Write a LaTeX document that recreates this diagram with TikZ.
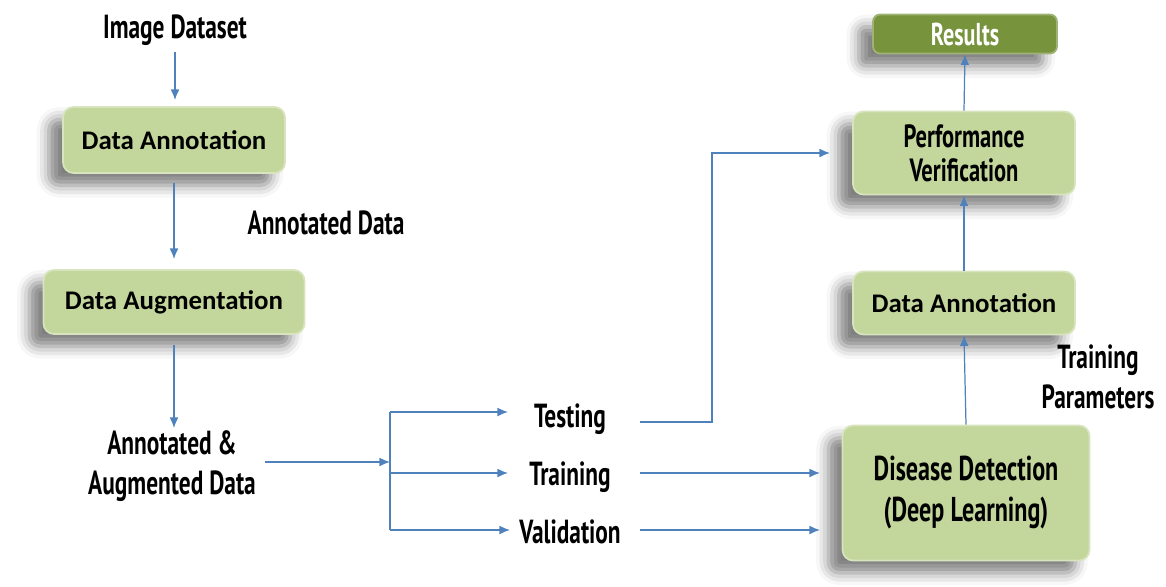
\documentclass[tikz,border=0pt]{standalone}
\usepackage{fontspec}
\usetikzlibrary{arrows.meta,shadows.blur}
\newfontfamily\agency[FakeStretch=0.7]{PT Sans}
\newfontfamily\calibri{Carlito}
\definecolor{boxgreen}{HTML}{C3D69B}
\definecolor{boxedge}{HTML}{D7E4BD}
\definecolor{darkgreen}{HTML}{77933C}
\definecolor{arrowblue}{HTML}{4F81BD}
\tikzset{
  gbox/.style={rectangle, rounded corners=6pt, fill=boxgreen, draw=boxedge, line width=1pt,
    align=center, text=black, inner sep=2pt,
    blur shadow={shadow xshift=-8pt, shadow yshift=-7pt, shadow blur radius=7pt, shadow opacity=50}},
  rbox/.style={gbox, fill=darkgreen, draw=darkgreen!70!white, text=white},
  lbl/.style={align=center, font=\agency\bfseries\fontsize{19}{22.5}\selectfont, inner sep=1pt},
  cbl/.style={font=\calibri\bfseries\fontsize{15.3}{18}\selectfont},
  arr/.style={draw=arrowblue, line width=0.7pt, -{Latex[length=6pt,width=5pt]}},
  ln/.style={draw=arrowblue, line width=0.7pt},
}
\begin{document}
\begin{tikzpicture}[x=0.02cm,y=-0.02cm]
\useasboundingbox (0,0) rectangle (1166,586);
% left column
\node[lbl] (img) at (175,30) {Image Dataset};
\node[gbox, cbl, minimum width=4.44cm, minimum height=1.32cm] (ann1) at (174,140) {Data Annotation};
\node[lbl] (annd) at (326,223) {Annotated Data};
\node[gbox, cbl, minimum width=5.22cm, minimum height=1.28cm] (aug) at (174,302) {Data Augmentation};
\node[lbl] (aad) at (172,466) {Annotated \&\\Augmented Data};
% split
\coordinate (sp) at (390,462);
\coordinate (spt) at (390,412);
\coordinate (spb) at (390,530);
\coordinate (spm) at (390,473);
\node[lbl] (test) at (570,419) {Testing};
\node[lbl] (train) at (570,477) {Training};
\node[lbl] (val) at (570,532) {Validation};
% right column
\node[gbox, font=\agency\bfseries\fontsize{19.6}{23}\selectfont, minimum width=4.94cm, minimum height=2.7cm] (dd) at (966,493) {\raisebox{-0.1cm}{\begin{tabular}{@{}c@{}}Disease Detection\\(Deep Learning)\end{tabular}}};
\node[gbox, cbl, minimum width=4.44cm, minimum height=1.26cm] (ann2) at (964,303) {Data Annotation};
\node[lbl] (tp) at (1098,377) {Training\\Parameters};
\node[gbox, font=\agency\bfseries\fontsize{18.3}{19.5}\selectfont, minimum width=4.44cm, minimum height=1.66cm] (pv) at (964,153) {Performance\\Verification};
\node[rbox, font=\agency\bfseries\fontsize{18}{20}\selectfont, minimum width=3.68cm, minimum height=0.78cm, rounded corners=4pt] (res) at (965,34) {Results};
% connectors
\coordinate (imgb) at (175,52);
\coordinate (ann1t) at (175,100);
\coordinate (ann1b) at (174,183);
\coordinate (augt) at (174,259);
\coordinate (augb) at (174,345);
\coordinate (aadt) at (174,428);
\coordinate (aadr) at (265,462);
\draw[arr] (imgb) -- (ann1t);
\draw[arr] (ann1b) -- (augt);
\draw[arr] (augb) -- (aadt);
\draw[arr] (aadr) -- (sp);
\draw[ln] (spt) -- (spb);
\draw[arr] (spt) -- (508,412);
\draw[arr] (spm) -- (508,473);
\draw[arr] (spb) -- (510,530);
\draw[arr] (640,422) -- (712,422) -- (712,153) -- (830,153);
\draw[arr] (640,473) -- (820,473);
\draw[arr] (640,530) -- (820,530);
\draw[arr] (dd.north) -- (ann2.south);
\draw[arr] (ann2.north) -- (pv.south);
\draw[arr] (pv.north) -- (res.south);
\end{tikzpicture}
\end{document}
